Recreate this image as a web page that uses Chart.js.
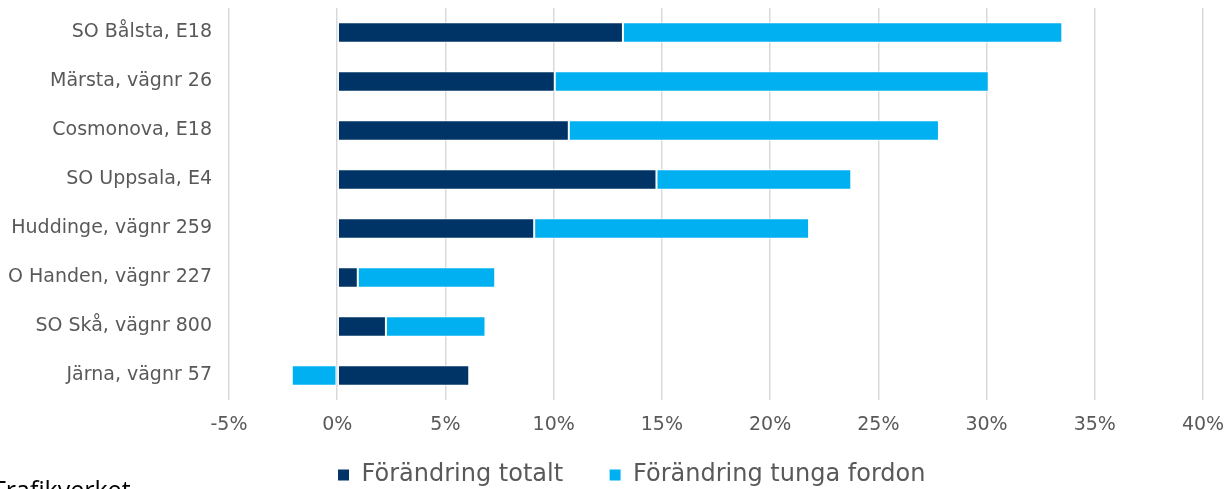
<!DOCTYPE html>
<html lang="sv">
<head>
  <meta charset="UTF-8" />
  <title>Förändring trafik</title>
  <script src="https://cdn.jsdelivr.net/npm/chart.js"></script>
  <style>
    html, body { margin: 0; padding: 0; background: #fff; overflow: hidden; }
    .wrap { position: relative; width: 1227px; height: 489px; }
    .source {
      position: absolute;
      left: -8px;
      top: 472px;
      font-family: 'Open Sans', 'DejaVu Sans', sans-serif;
      font-size: 25px;
      color: #000;
      white-space: nowrap;
    }
  </style>
</head>
<body>
  <div class="wrap">
    <canvas id="chart" width="1227" height="489"></canvas>
    <div class="source">Trafikverket</div>
  </div>

  <script>
    // data (percent)
    const stations = [
      "SO Bålsta, E18",
      "Märsta, vägnr 26",
      "Cosmonova, E18",
      "SO Uppsala, E4",
      "Huddinge, vägnr 259",
      "O Handen, vägnr 227",
      "SO Skå, vägnr 800",
      "Järna, vägnr 57"
    ];
    const totalt = [13.2, 10.05, 10.7, 14.75, 9.1, 0.95, 2.25, 6.1];
    const tunga = [20.3, 20.05, 17.1, 9.0, 12.7, 6.35, 4.6, -2.1];
    const seriesNames = ["Förändring totalt", "Förändring tunga fordon"];

    const tickColor = "#595959";
    const gridColor = "#d9d9d9";
    const fontFam = "'DejaVu Sans', sans-serif";

    // move the legend row to where the reference has it
    const legendPlace = {
      id: "legendPlace",
      afterLayout(chart) {
        const lg = chart.legend;
        const pad = lg.options.labels.padding;
        const h = lg.height;
        lg.top = 475 - 12 - pad;
        lg.bottom = lg.top + h;
        lg.left = 30;
        lg.right = 1233;
      }
    };

    new Chart(document.getElementById("chart"), {
      type: "bar",
      data: {
        labels: stations,
        datasets: [
          {
            label: seriesNames[0],
            data: totalt.map(v => v / 100),
            backgroundColor: "#003366",
            borderColor: "#ffffff",
            borderWidth: 1,
            borderSkipped: false
          },
          {
            label: seriesNames[1],
            data: tunga.map(v => v / 100),
            backgroundColor: "#00b0f0",
            borderColor: "#ffffff",
            borderWidth: 1,
            borderSkipped: false
          }
        ]
      },
      options: {
        indexAxis: "y",
        responsive: false,
        animation: false,
        barPercentage: 0.42,
        categoryPercentage: 1,
        layout: { padding: { top: 8, right: 24, left: 0, bottom: -31 } },
        scales: {
          x: {
            stacked: true,
            min: -0.05,
            max: 0.4,
            ticks: {
              stepSize: 0.05,
              color: tickColor,
              font: { family: fontFam, size: 19 },
              padding: 14,
              callback: v => Math.round(v * 100) + "%"
            },
            grid: { color: gridColor, lineWidth: 1.5, drawTicks: false },
            border: { display: false },
            afterFit: s => {
              s.height = 40;
              s.paddingLeft = 0;
              s.paddingRight = 0;
            }
          },
          y: {
            stacked: true,
            ticks: {
              color: tickColor,
              font: { family: fontFam, size: 19 },
              padding: 17
            },
            grid: { display: false, drawTicks: false },
            border: { display: false },
            afterFit: s => {
              s.width = 229;
              s.paddingTop = 0;
              s.paddingBottom = 0;
            }
          }
        },
        plugins: {
          legend: {
            position: "bottom",
            labels: {
              color: tickColor,
              font: { family: fontFam, size: 24 },
              boxWidth: 12,
              boxHeight: 12,
              padding: 46
            }
          },
          tooltip: { enabled: false }
        }
      },
      plugins: [legendPlace]
    });
  </script>
</body>
</html>
